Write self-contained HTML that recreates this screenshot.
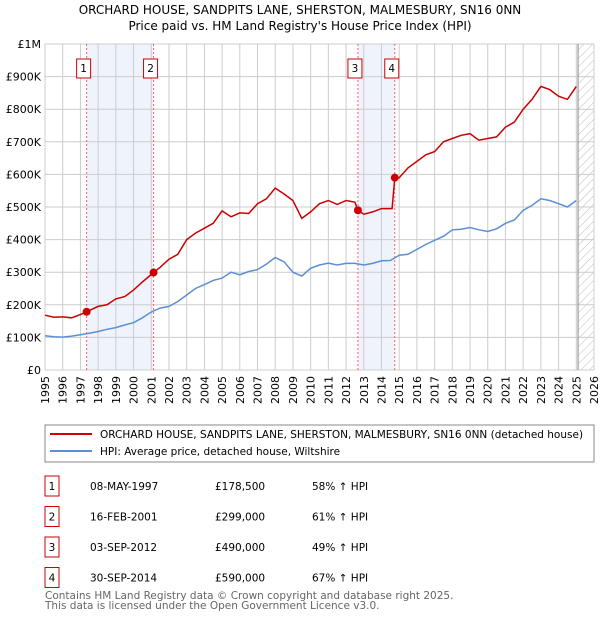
<!DOCTYPE html>
<html><head><meta charset="utf-8"><style>
body{margin:0;width:600px;height:620px;background:#fff;font-family:"DejaVu Sans","Liberation Sans",sans-serif;overflow:hidden}
svg text{font-family:"DejaVu Sans","Liberation Sans",sans-serif}
</style></head><body>
<svg id="c" width="600" height="620">
<defs><pattern id="h" width="6" height="6" patternUnits="userSpaceOnUse" patternTransform="rotate(45)"><line x1="0" y1="0" x2="0" y2="6" stroke="#bbb" stroke-width="1"/></pattern></defs>
<text x="300" y="14" text-anchor="middle" font-size="12">ORCHARD HOUSE, SANDPITS LANE, SHERSTON, MALMESBURY, SN16 0NN</text>
<text x="300" y="30" text-anchor="middle" font-size="12">Price paid vs. HM Land Registry's House Price Index (HPI)</text>
<g id="plot"></g>
<rect x="45" y="425" width="549" height="37" fill="#fff" stroke="#888"/>
<line x1="50" y1="434" x2="92" y2="434" stroke="#cc0000" stroke-width="2"/>
<text x="100" y="438" font-size="10.5">ORCHARD HOUSE, SANDPITS LANE, SHERSTON, MALMESBURY, SN16 0NN (detached house)</text>
<line x1="50" y1="451" x2="92" y2="451" stroke="#5b8fd4" stroke-width="2"/>
<text x="100" y="455" font-size="10.5">HPI: Average price, detached house, Wiltshire</text>
<g id="tbl"></g>
<text x="45" y="599" font-size="10.5" fill="#666">Contains HM Land Registry data © Crown copyright and database right 2025.</text>
<text x="45" y="609" font-size="10.5" fill="#666">This data is licensed under the Open Government Licence v3.0.</text>
</svg>
<script>
const hpiYears=[1995,1995.5,1996,1996.5,1997,1997.5,1998,1998.5,1999,1999.5,2000,2000.5,2001,2001.5,2002,2002.5,2003,2003.5,2004,2004.5,2005,2005.5,2006,2006.5,2007,2007.5,2008,2008.5,2009,2009.5,2010,2010.5,2011,2011.5,2012,2012.5,2013,2013.5,2014,2014.5,2015,2015.5,2016,2016.5,2017,2017.5,2018,2018.5,2019,2019.5,2020,2020.5,2021,2021.5,2022,2022.5,2023,2023.5,2024,2024.5,2025];
const hpiValues=[105,102,101,104,108,113,118,125,130,138,145,160,178,190,195,210,230,250,262,275,282,300,292,302,308,325,345,332,300,288,312,322,328,322,327,327,322,327,335,336,352,355,370,385,398,410,430,432,437,430,425,433,450,460,490,505,525,520,510,500,520];
const propYears=[1995,1995.5,1996,1996.5,1997,1997.35,1998,1998.5,1999,1999.5,2000,2000.5,2001.13,2001.5,2002,2002.5,2003,2003.5,2004,2004.5,2005,2005.5,2006,2006.5,2007,2007.5,2008,2008.5,2009,2009.5,2010,2010.5,2011,2011.5,2012,2012.5,2012.67,2013,2013.5,2014,2014.6,2014.75,2015,2015.5,2016,2016.5,2017,2017.5,2018,2018.5,2019,2019.5,2020,2020.5,2021,2021.5,2022,2022.5,2023,2023.5,2024,2024.5,2025];
const propValues=[168,162,163,160,170,178.5,195,200,218,225,245,270,299,315,340,355,400,420,435,450,488,470,482,480,510,525,558,540,520,465,485,510,520,508,520,515,490,478,485,495,495,590,590,620,640,660,670,700,710,720,725,705,710,715,745,760,800,830,870,860,840,830,870];
const saleYears=[1997.35,2001.13,2012.67,2014.75];
const saleValues=[178.5,299,490,590];
const saleLabels=["1","2","3","4"];
const saleDates=["08-MAY-1997","16-FEB-2001","03-SEP-2012","30-SEP-2014"];
const salePrices=["£178,500","£299,000","£490,000","£590,000"];
const salePcts=["58% ↑ HPI","61% ↑ HPI","49% ↑ HPI","67% ↑ HPI"];
const yTicks=[0,100,200,300,400,500,600,700,800,900,1000];
const yTickLabels=["£0","£100K","£200K","£300K","£400K","£500K","£600K","£700K","£800K","£900K","£1M"];
const xTicks=[1995,1996,1997,1998,1999,2000,2001,2002,2003,2004,2005,2006,2007,2008,2009,2010,2011,2012,2013,2014,2015,2016,2017,2018,2019,2020,2021,2022,2023,2024,2025,2026];
const X0=45,X1=594,Y0=370,Y1=44;
const xs=y=>X0+(y-1995)/(2026-1995)*(X1-X0);
const ys=v=>Y0-v/1000*(Y0-Y1);
const NS="http://www.w3.org/2000/svg";
const g=document.getElementById('plot');
function mk(t,a,p){const e=document.createElementNS(NS,t);for(const k in a)e.setAttribute(k,a[k]);(p||g).appendChild(e);return e;}
// shading
for(let i=0;i<4;i+=2){
const r=mk('rect',{x:xs(saleYears[i]),y:Y1,width:xs(saleYears[i+1])-xs(saleYears[i]),height:Y0-Y1,fill:'#eef3fc'});


}
const hr=mk('rect',{x:xs(2025.1),y:Y1,width:X1-xs(2025.1),height:Y0-Y1,fill:'url(#h)'});


for(const t of xTicks){const l=mk('line',{x1:xs(t),x2:xs(t),y1:Y1,y2:Y0,stroke:'#ccc'});


const tx=mk('text',{x:0,y:0,'font-size':11,'text-anchor':'end',transform:`translate(${xs(t)+4},${Y0+6}) rotate(-90)`});tx.textContent=t;

}
yTicks.forEach((v,i)=>{const l=mk('line',{x1:X0,x2:X1,y1:ys(v),y2:ys(v),stroke:'#ccc'});


const tx=mk('text',{x:X0-4,y:ys(v)+4,'font-size':11,'text-anchor':'end'});tx.textContent=yTickLabels[i];

});
const vl=mk('line',{x1:xs(2025.1),x2:xs(2025.1),y1:Y1,y2:Y0,stroke:'#999','stroke-width':1.2});


saleYears.forEach((y,i)=>{const l=mk('line',{x1:xs(y),x2:xs(y),y1:Y1,y2:Y0,stroke:'#e66','stroke-dasharray':'2,2'});


const b=mk('rect',{x:xs(y)-10,y:59,width:14,height:19,fill:'#fff',stroke:'#c00'});


const t=mk('text',{x:xs(y)-3,y:72,'font-size':10.5,'text-anchor':'middle'});t.textContent=saleLabels[i];

});
const pts=(a,b)=>a.map((y,i)=>xs(y).toFixed(1)+','+ys(b[i]).toFixed(1)).join(' ');
const hl=mk('polyline',{points:pts(hpiYears,hpiValues),fill:'none',stroke:'#5b8fd4','stroke-width':1.5});


const pl=mk('polyline',{points:pts(propYears,propValues),fill:'none',stroke:'#cc0000','stroke-width':1.5});


saleYears.forEach((y,i)=>{const c=mk('circle',{cx:xs(y),cy:ys(saleValues[i]),r:4,fill:'#cc0000'});

});
const tb=document.getElementById('tbl');
saleLabels.forEach((s,i)=>{const cy=486+i*30.5;
const b=mk('rect',{x:45,y:cy-10,width:14,height:20,fill:'#fff',stroke:'#c00'},tb);


const cols=[[52,s,'middle'],[90,saleDates[i],'start'],[215,salePrices[i],'start'],[312,salePcts[i],'start']];
const nm=['table-index','table-date','table-price','table-hpi-change'];
cols.forEach((c,j)=>{const t=mk('text',{x:c[0],y:cy+4,'font-size':10.5,'text-anchor':c[2]},tb);t.textContent=c[1];

});});
</script>
</body></html>
